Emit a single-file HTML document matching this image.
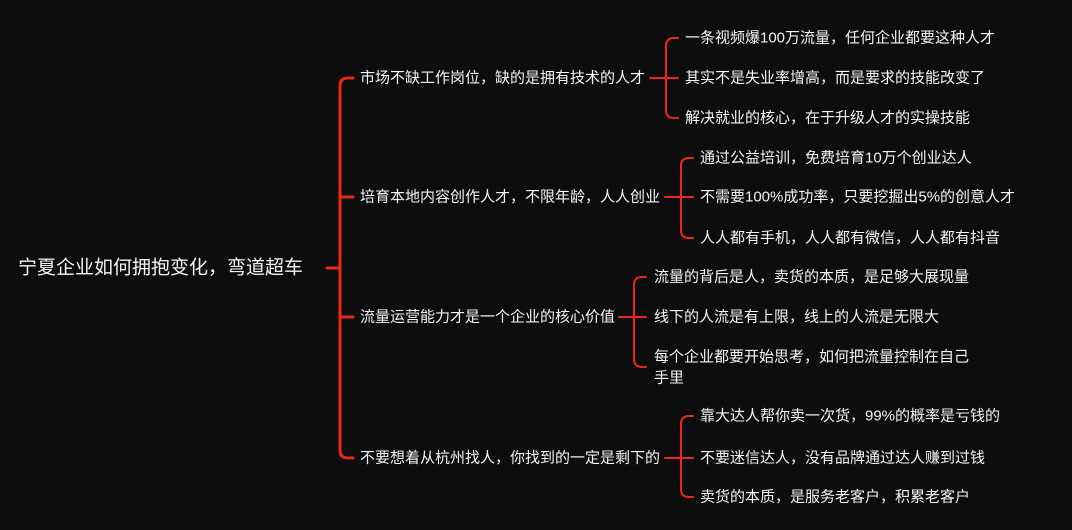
<!DOCTYPE html>
<html><head><meta charset="utf-8"><style>
html,body{margin:0;padding:0;background:#0d0d0d;}
svg{display:block}
text{font-family:"Liberation Sans","Noto Sans CJK SC",sans-serif;fill:#f4f4f4;font-size:15px;dominant-baseline:central}
</style></head><body>
<svg width="1072" height="530" viewBox="0 0 1072 530">
<rect width="1072" height="530" fill="#0d0d0d"/>
<g fill="none" stroke="#e8281b" stroke-linecap="round">
<path d="M327 268 H340" stroke-width="3"/>
<path d="M353 78 H348 Q340 78 340 86 V450 Q340 458 348 458 H353" stroke-width="3"/>
<path d="M340 197 H353 M340 317 H353" stroke-width="3"/>
<path d="M650 78 H666 M678 38 H674 Q666 38 666 46 V110 Q666 118 674 118 H678 M666 78 H678" stroke-width="2"/>
<path d="M665 197 H681 M693 158 H689 Q681 158 681 166 V230 Q681 238 689 238 H693 M681 197 H693" stroke-width="2"/>
<path d="M619 317 H634 M646 277 H642 Q634 277 634 285 V359 Q634 367 642 367 H646 M634 317 H646" stroke-width="2"/>
<path d="M665 458 H681 M693 416 H689 Q681 416 681 424 V489 Q681 497 689 497 H693 M681 458 H693" stroke-width="2"/>
</g>
<text x="18" y="268" style="font-size:19px">宁夏企业如何拥抱变化，弯道超车</text>
<text x="360" y="78">市场不缺工作岗位，缺的是拥有技术的人才</text>
<text x="360" y="197">培育本地内容创作人才，不限年龄，人人创业</text>
<text x="360" y="317">流量运营能力才是一个企业的核心价值</text>
<text x="360" y="458">不要想着从杭州找人，你找到的一定是剩下的</text>
<text x="685" y="38">一条视频爆100万流量，任何企业都要这种人才</text>
<text x="685" y="78">其实不是失业率增高，而是要求的技能改变了</text>
<text x="685" y="118">解决就业的核心，在于升级人才的实操技能</text>
<text x="700" y="158">通过公益培训，免费培育10万个创业达人</text>
<text x="700" y="197">不需要100%成功率，只要挖掘出5%的创意人才</text>
<text x="700" y="238">人人都有手机，人人都有微信，人人都有抖音</text>
<text x="654" y="277">流量的背后是人，卖货的本质，是足够大展现量</text>
<text x="654" y="317">线下的人流是有上限，线上的人流是无限大</text>
<text x="654" y="357">每个企业都要开始思考，如何把流量控制在自己</text>
<text x="654" y="378">手里</text>
<text x="700" y="416">靠大达人帮你卖一次货，99%的概率是亏钱的</text>
<text x="700" y="458">不要迷信达人，没有品牌通过达人赚到过钱</text>
<text x="700" y="497">卖货的本质，是服务老客户，积累老客户</text>
</svg>
</body></html>
